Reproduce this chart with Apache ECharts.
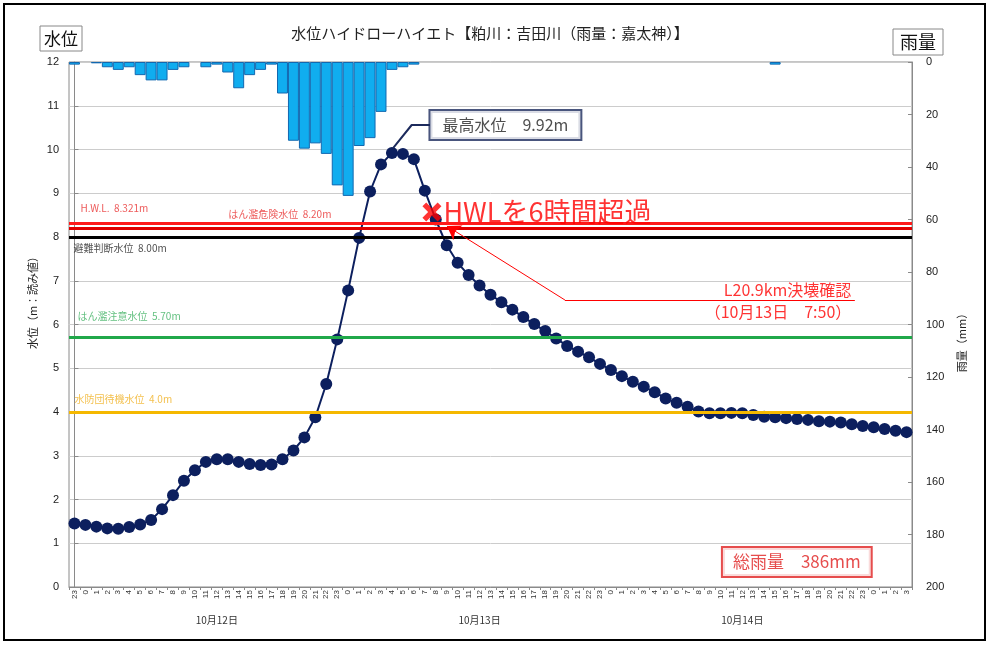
<!DOCTYPE html>
<html><head><meta charset="utf-8">
<script src="https://cdn.jsdelivr.net/npm/echarts@6/dist/echarts.min.js"></script>
<style>html,body{margin:0;padding:0;background:#fff}#c{width:989px;height:645px}</style>
</head><body><div id="c"></div>
<script>
// ---- data ----
const hourLabels = ['23',
  '0','1','2','3','4','5','6','7','8','9','10','11','12','13','14','15','16','17','18','19','20','21','22','23',
  '0','1','2','3','4','5','6','7','8','9','10','11','12','13','14','15','16','17','18','19','20','21','22','23',
  '0','1','2','3','4','5','6','7','8','9','10','11','12','13','14','15','16','17','18','19','20','21','22','23',
  '0','1','2','3'];
const dayNames = ['10月12日', '10月13日', '10月14日'];
const dayLabelIndex = [13, 37, 61];
const waterLevel = [1.45,
  1.42,1.38,1.34,1.33,1.37,1.43,1.53,1.78,2.10,2.43,2.67,2.86,2.92,2.92,2.86,2.81,2.79,2.80,2.92,3.12,3.42,3.88,4.64,5.66,
  6.78,7.98,9.04,9.66,9.92,9.90,9.78,9.06,8.40,7.81,7.41,7.13,6.89,6.68,6.51,6.34,6.17,6.01,5.85,5.68,5.51,5.38,5.25,5.10,
  4.96,4.82,4.69,4.58,4.45,4.31,4.21,4.12,4.01,3.97,3.97,3.98,3.97,3.93,3.89,3.88,3.86,3.84,3.82,3.79,3.78,3.76,3.72,3.68,
  3.65,3.61,3.57,3.54];
const rainfall = [1,
  0,0.5,2,3,2,5,7,7,3,2,0,2,1,4,10,5,3,1,12,30,33,31,35,47,
  51,32,29,19,3,2,1,0,0,0,0,0,0,0,0,0,0,0,0,0,0,0,0,0,
  0,0,0,0,0,0,0,0,0,0,0,0,0,0,0,1,0,0,0,0,0,0,0,0,
  0,0,0,0];
const thresholdNames = ['H.W.L.  8.321m', 'はん濫危険水位  8.20m', '避難判断水位  8.00m', 'はん濫注意水位  5.70m', '水防団待機水位  4.0m'];
const thresholdValues = [8.321, 8.20, 8.00, 5.70, 4.0];
const peakLevel = 9.92;
const totalRain = 386;

// ---- chart ----
const FONT = '"Noto Sans CJK JP", "Noto Sans", sans-serif';
const dayAxisData = hourLabels.map(() => '');
dayLabelIndex.forEach((k, i) => { dayAxisData[k] = dayNames[i]; });
const thrColors = ['#ff1a1a', '#e00000', '#000000', '#20a84a', '#f5b800'];
const thrLabelColors = ['#e83030', '#e83030', '#222222', '#3cb060', '#f0b020'];
const thrLabelPos = [[0.5, 8.66], [14.0, 8.53], [-0.13, 7.75], [0.23, 6.19], [-0.04, 4.30]];

const chart = echarts.init(document.getElementById('c'), null, {renderer: 'canvas'});
const option = {
  animation: false,
  textStyle: {fontFamily: FONT},
  grid: {left: 69, right: 77, top: 62, bottom: 58, show: true, borderColor: '#8a8a8a', borderWidth: 1},
  xAxis: [
    {type: 'category', data: hourLabels, position: 'bottom', boundaryGap: true,
     axisLine: {lineStyle: {color: '#8a8a8a'}},
     axisTick: {show: true, length: 3, lineStyle: {color: '#8a8a8a'}},
     axisLabel: {interval: 0, rotate: 90, fontSize: 8, color: '#333', margin: 3, fontFamily: 'Liberation Sans'}},
    {type: 'category', data: dayAxisData, position: 'bottom', boundaryGap: true,
     axisLine: {show: false}, axisTick: {show: false},
     axisLabel: {interval: 0, fontSize: 10, color: '#333', margin: 28}},
    {type: 'value', min: -0.5, max: 76.5, show: false, position: 'top'}
  ],
  yAxis: [
    {type: 'value', min: 0, max: 12, interval: 1, position: 'left',
     axisLine: {show: true, lineStyle: {color: '#8a8a8a'}},
     axisTick: {show: true, inside: true, length: 4, lineStyle: {color: '#8a8a8a'}},
     axisLabel: {fontSize: 11, color: '#222', margin: 10, fontFamily: 'Liberation Sans'},
     splitLine: {show: true, lineStyle: {color: '#cccccc'}}},
    {type: 'value', min: 0, max: 200, interval: 20, inverse: true, position: 'right',
     axisLine: {show: true, lineStyle: {color: '#8a8a8a'}},
     axisTick: {show: true, inside: true, length: 4, lineStyle: {color: '#8a8a8a'}},
     axisLabel: {fontSize: 11, color: '#222', margin: 14, fontFamily: 'Liberation Sans'},
     splitLine: {show: false}}
  ],
  series: [
    {name: '雨量', type: 'bar', xAxisIndex: 0, yAxisIndex: 1, data: rainfall.map(v => (v > 0 ? v : null)), barCategoryGap: '0%', z: 1,
     itemStyle: {color: '#10adef', borderColor: '#1268b0', borderWidth: 1}},
    {name: 'thresholds', type: 'line', xAxisIndex: 2, yAxisIndex: 0, data: [], z: 1,
     markLine: {silent: true, symbol: 'none', animation: false, label: {show: false},
       data: thresholdValues.map((v, i) => ({yAxis: v, lineStyle: {color: thrColors[i], width: 3, type: 'solid'}}))}},
    {name: '水位', type: 'line', xAxisIndex: 0, yAxisIndex: 0, data: waterLevel, z: 3,
     symbol: 'circle', symbolSize: 12, color: '#0c1f5e',
     lineStyle: {color: '#0c1f5e', width: 2}, itemStyle: {color: '#0c1f5e'}},
    // threshold labels
    {type: 'scatter', xAxisIndex: 2, yAxisIndex: 0, symbolSize: 1, itemStyle: {color: 'rgba(0,0,0,0)'}, z: 4, silent: true,
     data: thresholdNames.map((n, i) => ({value: thrLabelPos[i],
       label: {show: true, position: 'right', distance: 0, formatter: n, fontSize: 10, color: thrLabelColors[i]}}))},
    // peak connector
    {type: 'line', xAxisIndex: 2, yAxisIndex: 0, symbol: 'none', z: 4, silent: true,
     lineStyle: {color: '#1c2a5c', width: 2},
     data: [[29.1, 10.03], [30.8, 10.56], [32.47, 10.56]]},
    // annotation texts
    {type: 'scatter', xAxisIndex: 2, yAxisIndex: 0, symbolSize: 1, itemStyle: {color: 'rgba(0,0,0,0)'}, z: 6, silent: true,
     data: [
       {value: [32.47, 10.56], label: {show: true, position: 'right', distance: 0,
         formatter: '最高水位　' + peakLevel.toFixed(2) + 'm', fontSize: 16, color: '#222', lineHeight: 20,
         backgroundColor: '#fff', borderColor: '#1c2a5c', borderWidth: 2, padding: [4, 12]}},
       {value: [65.98, 0.571], label: {show: true, position: 'inside',
         formatter: '総雨量　' + totalRain + 'mm', fontSize: 17, color: '#e02020', lineHeight: 22,
         backgroundColor: '#fff', borderColor: '#e02020', borderWidth: 2, padding: [3, 10]}},
       {value: [71.0, 6.79], label: {show: true, position: 'left', distance: 0,
         formatter: 'L20.9km決壊確認', fontSize: 16, color: '#ff0000'}},
       {value: [71.0, 6.286], label: {show: true, position: 'left', distance: 0,
         formatter: '（10月13日　7:50）', fontSize: 16, color: '#ff0000'}}
     ]},
    // break marker
    {type: 'scatter', xAxisIndex: 2, yAxisIndex: 0, z: 7, silent: true,
     symbol: 'path://M4,0 L10,6 L16,0 L20,4 L14,10 L20,16 L16,20 L10,14 L4,20 L0,16 L6,10 L0,4 Z',
     symbolSize: 19, itemStyle: {color: '#ff0000'},
     data: [{value: [32.65, 8.571], label: {show: true, position: 'right', distance: 2,
       formatter: 'HWLを6時間超過', fontSize: 27, color: '#ff0000'}}],
     markLine: {silent: true, animation: false, label: {show: false},
       lineStyle: {color: '#ff0000', width: 1, type: 'solid'},
       data: [
         [{coord: [44.8, 6.56], symbol: 'none'}, {coord: [34.02, 8.25], symbol: 'arrow', symbolSize: 13}],
         [{coord: [44.8, 6.56], symbol: 'none'}, {coord: [71.28, 6.56], symbol: 'none'}]
       ]}}
  ],
  graphic: [
    {type: 'rect', shape: {x: 4, y: 4, width: 981, height: 636}, style: {fill: 'none', stroke: '#000', lineWidth: 2}, z: 100},
    {type: 'text', x: 490, y: 33, style: {text: '水位ハイドローハイエト【粕川：吉田川（雨量：嘉太神）】', font: '15px ' + FONT, fill: '#222', textAlign: 'center', textVerticalAlign: 'middle'}},
    {type: 'rect', shape: {x: 40, y: 26, width: 42, height: 25}, style: {fill: '#fff', stroke: '#888', lineWidth: 1}},
    {type: 'text', x: 61, y: 38.5, style: {text: '水位', font: '17px ' + FONT, fill: '#111', textAlign: 'center', textVerticalAlign: 'middle'}},
    {type: 'rect', shape: {x: 893, y: 29, width: 50, height: 26}, style: {fill: '#fff', stroke: '#888', lineWidth: 1}},
    {type: 'text', x: 918, y: 42, style: {text: '雨量', font: '18px ' + FONT, fill: '#111', textAlign: 'center', textVerticalAlign: 'middle'}},
    {type: 'text', x: 33, y: 300, rotation: Math.PI / 2, style: {text: '水位（m：読み値）', font: '11px ' + FONT, fill: '#222', textAlign: 'center', textVerticalAlign: 'middle'}},
    {type: 'text', x: 962, y: 340, rotation: Math.PI / 2, style: {text: '雨量（mm）', font: '11px ' + FONT, fill: '#222', textAlign: 'center', textVerticalAlign: 'middle'}}
  ]
};
chart.setOption(option);
</script>
</body></html>
